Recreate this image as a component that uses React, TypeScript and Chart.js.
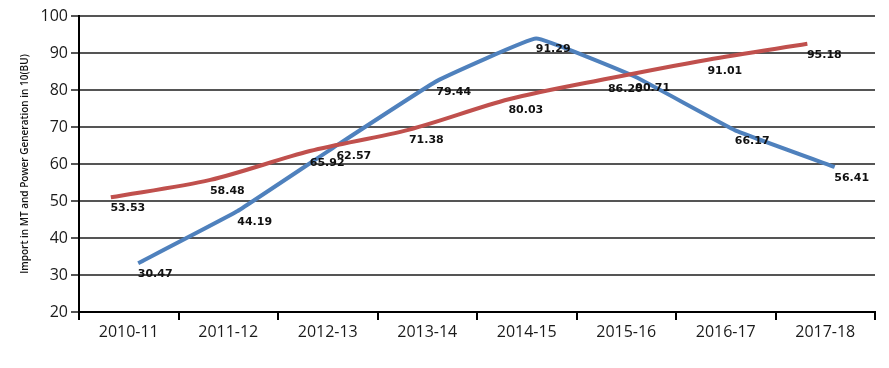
import React, { useEffect, useRef } from "react";
import { Chart, registerables } from "chart.js";

Chart.register(...registerables);

// ---- data ----
const categories = ["2010-11", "2011-12", "2012-13", "2013-14", "2014-15", "2015-16", "2016-17", "2017-18"];
const importValues = [33.2, 47.3, 65.1, 82.4, 93.9, 83.5, 69.1, 59.2];
const powerValues = [51.0, 55.7, 63.5, 69.3, 77.5, 83.1, 88.2, 92.5];
const importLabels = ["30.47", "44.19", "65.92", "79.44", "91.29", "90.71", "66.17", "56.41"];
const powerLabels = ["53.53", "58.48", "62.57", "71.38", "80.03", "86.20", "91.01", "95.18"];
const yMin = 20;
const yMax = 100;
const yStep = 10;
const yTitle = "Import in MT and Power Generation in 10(BU)";

// ---- presentation ----
const IMPORT_SHIFT = 0.095; // horizontal shift of series within category band
const POWER_SHIFT = -0.18;
const DEFAULT_LABEL_OFFSET: [number, number] = [17, 11];
const LABEL_OFFSETS: Record<number, Record<number, [number, number]>> = {
  0: { 2: [-10, 18] },
  1: { 2: [44, 5] },
};
const DATASET_LABELS = [importLabels, powerLabels];

const pointLabelPlugin = {
  id: "pointLabelPlugin",
  afterDatasetsDraw(chart: any) {
    const ctx = chart.ctx;
    ctx.save();
    ctx.font = "bold 11px 'DejaVu Sans'";
    ctx.fillStyle = "#111";
    ctx.textAlign = "center";
    ctx.textBaseline = "middle";
    chart.data.datasets.forEach((_ds: any, di: number) => {
      const meta = chart.getDatasetMeta(di);
      const texts = DATASET_LABELS[di];
      meta.data.forEach((pt: any, i: number) => {
        const off = (LABEL_OFFSETS[di] && LABEL_OFFSETS[di][i]) || DEFAULT_LABEL_OFFSET;
        ctx.fillText(texts[i], pt.x + off[0], pt.y + off[1]);
      });
    });
    ctx.restore();
  },
};

export default function App() {
  const ref = useRef<HTMLCanvasElement | null>(null);

  useEffect(() => {
    if (!ref.current) return;
    const tickFont = { family: "'Open Sans'", size: 16 };
    const chart = new Chart(ref.current, {
      type: "line",
      data: {
        labels: categories,
        datasets: [
          {
            label: "Import",
            data: importValues.map((v, i) => ({ x: i + IMPORT_SHIFT, y: v })),
            xAxisID: "xl",
            borderColor: "#4F81BD",
            backgroundColor: "#4F81BD",
            borderWidth: 4,
            pointRadius: 0,
            tension: 0.08,
            order: 2,
          },
          {
            label: "Power Generation",
            data: powerValues.map((v, i) => ({ x: i + POWER_SHIFT, y: v })),
            xAxisID: "xl",
            borderColor: "#C0504D",
            backgroundColor: "#C0504D",
            borderWidth: 4,
            pointRadius: 0,
            tension: 0.3,
            order: 1,
          },
        ],
      },
      options: {
        animation: false,
        responsive: true,
        maintainAspectRatio: false,
        layout: { padding: { left: 0, right: 14, top: 16, bottom: 0 } },
        plugins: {
          legend: { display: false },
          tooltip: { enabled: false },
        },
        scales: {
          x: {
            type: "category",
            offset: true,
            grid: {
              offset: true,
              drawOnChartArea: false,
              drawTicks: true,
              tickLength: 8,
              color: "#000",
              lineWidth: 2,
            },
            border: { color: "#000", width: 2 },
            ticks: { font: tickFont, color: "#1a1a1a", padding: 3, maxRotation: 0, autoSkip: false },
            afterFit: (s: any) => {
              s.height = 56;
            },
          },
          xl: {
            type: "linear",
            min: -0.5,
            max: 7.5,
            display: false,
          },
          y: {
            min: yMin,
            max: yMax,
            ticks: { stepSize: yStep, font: tickFont, color: "#1a1a1a", padding: 3 },
            grid: { color: "#555", lineWidth: 2, tickLength: 8 },
            border: { color: "#000", width: 2 },
            title: {
              display: true,
              text: yTitle,
              font: { family: "'Open Sans'", size: 10, weight: "600" },
              color: "#111",
              padding: { top: 19, bottom: 0 },
            },
            afterFit: (s: any) => {
              s.width = 79;
            },
          },
        },
      },
      plugins: [pointLabelPlugin],
    });
    return () => chart.destroy();
  }, []);

  return (
    <div style={{ position: "fixed", left: 0, top: 0, width: 889, height: 368, background: "#fff" }}>
      <canvas ref={ref} />
    </div>
  );
}
